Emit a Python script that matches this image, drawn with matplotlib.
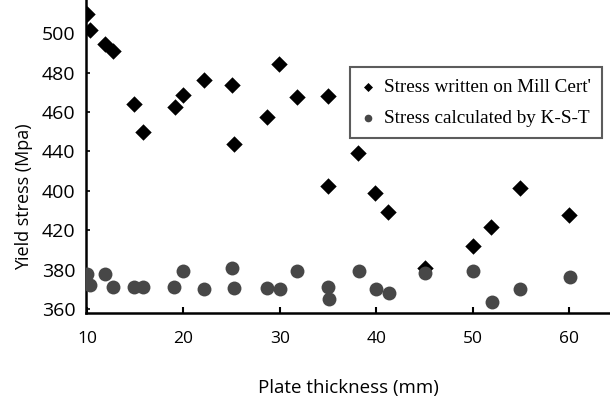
import matplotlib.pyplot as plt

plt.rcParams.update({"font.family": ["Open Sans", "DejaVu Sans"]})

# plate thickness (mm) and yield stress
mill_thickness = [10.0, 10.3, 11.9, 12.7, 14.9, 15.8, 19.1, 20.0, 22.1, 25.0, 25.2, 28.7,
                  29.9, 31.8, 35.0, 38.1, 35.0, 39.9, 41.2, 45.1, 50.0, 51.9, 54.9, 60.0]
mill_stress = [510.0, 501.5, 494.6, 491.2, 464.1, 449.8, 462.8, 468.7, 476.3, 473.8, 443.8, 457.4,
               484.3, 467.8, 468.3, 439.4, 422.5, 418.8, 409.1, 380.7, 392.1, 401.5, 421.3, 407.7]

kst_thickness = [10.0, 10.3, 11.9, 12.7, 14.9, 15.8, 19.0, 20.0, 22.1, 25.0, 25.3, 28.7,
                 30.0, 31.8, 35.0, 35.1, 38.2, 40.0, 41.3, 45.1, 50.0, 52.0, 54.9, 60.1]
kst_stress = [377.6, 372.2, 377.6, 371.0, 371.3, 371.3, 371.3, 379.5, 370.0, 380.7, 370.8, 370.8,
              370.0, 379.5, 371.0, 364.9, 379.5, 370.0, 368.0, 378.1, 379.5, 363.7, 370.0, 376.1]

x_ticks = [10, 20, 30, 40, 50, 60]
y_ticks = [360, 380, 400, 420, 440, 460, 480, 500]
y_tick_labels = ["360", "380", "420", "400", "440", "460", "480", "500"]

fig = plt.figure(figsize=(6.1, 4.01), dpi=100)
ax = fig.add_axes([0.1418, 0.2195, 0.8582, 0.7805])

ax.scatter(mill_thickness, mill_stress, marker="D", s=70, color="black", lw=0,
           label="Stress written on Mill Cert'", zorder=3)
ax.scatter(kst_thickness, kst_stress, marker="o", s=100, color="#474747", lw=0,
           label="Stress calculated by K-S-T", zorder=4)

ax.set_xlim(9.95, 64.25)
ax.set_ylim(357.97, 516.9)
ax.set_xticks(x_ticks)
ax.set_yticks(y_ticks)
ax.set_yticklabels(y_tick_labels)
ax.tick_params(axis="x", direction="in", length=4, width=1.5, labelsize=12.5, pad=13)
ax.tick_params(axis="y", direction="in", length=3, width=1.2, labelsize=14, pad=8)

for side in ("top", "right"):
    ax.spines[side].set_visible(False)
for side in ("left", "bottom"):
    ax.spines[side].set_linewidth(1.8)
    ax.spines[side].set_color("black")

ax.set_xlabel("Plate thickness (mm)", fontsize=13.5, labelpad=23)
ax.set_ylabel("Yield stress (Mpa)", fontsize=13)
ax.yaxis.set_label_coords(-0.102, 0.37)

leg = ax.legend(loc="upper left", bbox_to_anchor=(350 / 610, 1 - 67 / 401),
                bbox_transform=fig.transFigure, markerscale=0.55,
                prop={"family": "Liberation Serif", "size": 13.8},
                frameon=True, fancybox=False, borderpad=0.6, labelspacing=0.7,
                handlelength=0.7, handletextpad=0.45, borderaxespad=0)
leg.get_frame().set_edgecolor("#333333")
leg.get_frame().set_linewidth(1.5)

fig.savefig("out.png", dpi=100)
